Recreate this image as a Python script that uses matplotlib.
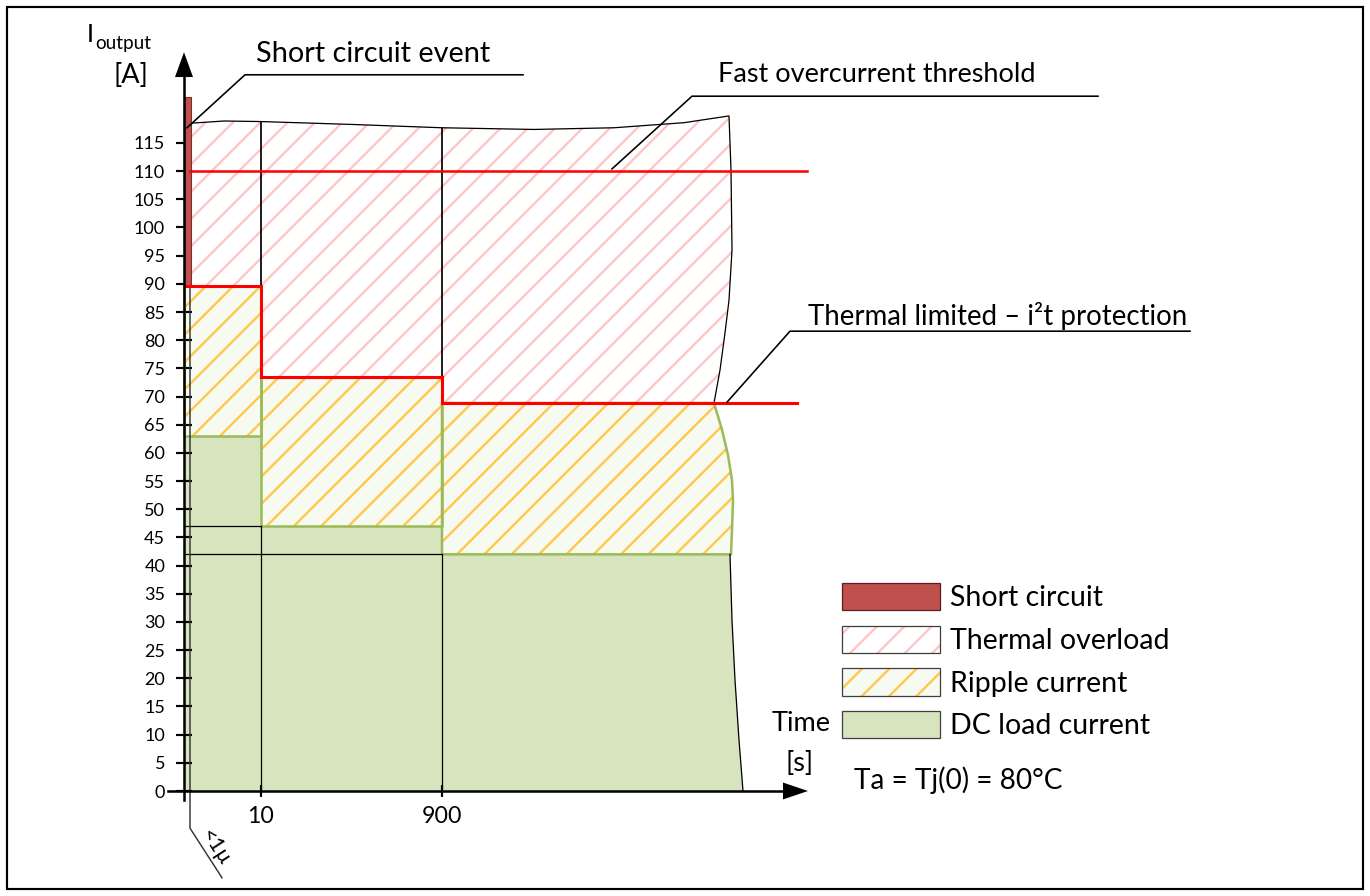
import matplotlib
matplotlib.use("Agg")
import matplotlib.pyplot as plt
from matplotlib.patches import Patch, Polygon, Rectangle
from matplotlib.legend_handler import HandlerTuple

# ---------------- data ----------------
time_labels = ['10', '900']            # tick labels on the time axis
col_edges = [0, 77, 258]               # schematic positions of column starts (short-circuit, 10 s, 900 s)
y_ticks = list(range(0, 120, 5))       # current ticks [A]
dc_levels = [63, 47, 42]               # DC load current per column [A]
i2t_limits = [89.6, 73.5, 68.85]       # thermal limited (i2t) levels per column [A]
fast_oc = 110                          # fast overcurrent threshold [A]
short_circuit = [89.6, 123.2]          # short circuit bar range [A]
# top boundary of thermal overload area
top_x = [6, 40, 77, 166, 258, 350, 430, 500, 545]
top_y = [118.5, 118.9, 118.8, 118.3, 117.7, 117.4, 117.7, 118.6, 119.8]
# right boundary (curved) of last column, per region (top -> bottom)
th_right_x = [545, 547, 548, 545, 541, 536, 530]
th_right_y = [119.8, 110.2, 96.0, 87.1, 81.3, 74.7, 68.85]
rp_right_x = [530, 538, 544, 548, 549, 548, 547]
rp_right_y = [68.85, 64.1, 59.6, 55.2, 51.6, 46.3, 42]
dc_right_x = [546, 548, 551, 555, 559]
dc_right_y = [42, 30.3, 19.7, 9.05, 0]
red_end = 613
fast_end = 623

# ---------------- figure ----------------
W, H, DPI = 1370, 896, 82
K = 130 / DPI           # sizes below are given for 130 dpi


def pt(v):
    return v * K


plt.rcParams['font.family'] = ['Lato', 'DejaVu Sans']
plt.rcParams['hatch.linewidth'] = pt(1.3)

PX = 5.635
fig = plt.figure(figsize=(W / DPI, H / DPI), dpi=DPI)
ax = fig.add_axes([0, 0, 1, 1])
ax.set_xlim(-184, W - 184)
ax.set_ylim(-105 / PX, (H - 105) / PX)
ax.patch.set_alpha(0)

C_DC = '#D7E4BD'
C_RP_FACE = '#F7FAF1'
C_RP_HATCH = '#FFC84A'
C_TH_HATCH = '#FFC4C4'
C_GREEN = '#9BBB59'
C_SC = '#C0504D'


def hatched(xs, ys, face, hcol, z=1):
    ax.add_patch(Polygon(list(zip(xs, ys)), closed=True, facecolor=face, edgecolor='none', lw=0, zorder=z))
    ax.add_patch(Polygon(list(zip(xs, ys)), closed=True, facecolor='none', edgecolor=hcol, lw=0,
                         hatch='/', zorder=z))


x_end_col = [col_edges[1], col_edges[2]]

# DC load current regions
for i in range(2):
    xs = [col_edges[i], col_edges[i], x_end_col[i], x_end_col[i]]
    ys = [0, dc_levels[i], dc_levels[i], 0]
    ax.add_patch(Polygon(list(zip(xs, ys)), closed=True, facecolor=C_DC, edgecolor='none', zorder=1))
xs = [col_edges[2], col_edges[2]] + dc_right_x
ys = [0, dc_levels[2]] + dc_right_y
ax.add_patch(Polygon(list(zip(xs, ys)), closed=True, facecolor=C_DC, edgecolor='none', zorder=1))

# Ripple regions
rp_polys = []
for i in range(2):
    xs = [col_edges[i], col_edges[i], x_end_col[i], x_end_col[i]]
    ys = [dc_levels[i], i2t_limits[i], i2t_limits[i], dc_levels[i]]
    rp_polys.append((xs, ys))
xs = [col_edges[2], col_edges[2]] + rp_right_x
ys = [dc_levels[2], i2t_limits[2]] + rp_right_y
rp_polys.append((xs, ys))
for xs, ys in rp_polys:
    hatched(xs, ys, C_RP_FACE, C_RP_HATCH)

# Thermal overload regions
th_polys = []
bounds = [(6, col_edges[1]), (col_edges[1], col_edges[2])]
for i, (a, b) in enumerate(bounds):
    tx = [x for x in top_x if a <= x <= b]
    ty = [top_y[top_x.index(x)] for x in tx]
    xs = [a] + tx + [b]
    ys = [i2t_limits[i]] + ty + [i2t_limits[i]]
    th_polys.append((xs, ys))
tx = [x for x in top_x if x >= col_edges[2]]
ty = [top_y[top_x.index(x)] for x in tx]
xs = [col_edges[2]] + tx + th_right_x[1:]
ys = [i2t_limits[2]] + ty + th_right_y[1:]
th_polys.append((xs, ys))
for xs, ys in th_polys:
    hatched(xs, ys, 'white', C_TH_HATCH)
    ax.add_patch(Polygon(list(zip(xs, ys)), closed=True, facecolor='none', edgecolor='black',
                         lw=pt(0.7), zorder=2))

# outlines of ripple (green)
for xs, ys in rp_polys:
    ax.add_patch(Polygon(list(zip(xs, ys)), closed=True, facecolor='none', edgecolor=C_GREEN,
                         lw=pt(1.4), zorder=2))

# thin black grid lines inside DC area
lk = dict(color='black', lw=pt(0.7), zorder=2)
ax.plot([0, col_edges[1]], [dc_levels[1]] * 2, **lk)
ax.plot([0, col_edges[2]], [dc_levels[2]] * 2, **lk)
ax.plot([col_edges[1]] * 2, [0, dc_levels[1]], **lk)
ax.plot([col_edges[2]] * 2, [0, dc_levels[2]], **lk)
ax.plot(dc_right_x, dc_right_y, **lk)

# <1u marker line
ax.plot([6, 6, 38], [top_y[0], -6.6, -15.4], color='#333333', lw=pt(0.8), zorder=3)
ax.text(12.5, -8.0, '<1µ', rotation=-57, rotation_mode='anchor', ha='left', va='bottom',
        fontsize=pt(12))

# short circuit bar
ax.add_patch(Rectangle((0, short_circuit[0]), 7, short_circuit[1] - short_circuit[0],
                       facecolor=C_SC, edgecolor='#7A2F2D', lw=pt(0.6), zorder=3))

# red lines
sx = [1, col_edges[1], col_edges[1], col_edges[2], col_edges[2], red_end]
sy = [i2t_limits[0], i2t_limits[0], i2t_limits[1], i2t_limits[1], i2t_limits[2], i2t_limits[2]]
ax.plot(sx, sy, color='#FF0000', lw=pt(1.7), zorder=4, solid_joinstyle='miter')
ax.plot([6, fast_end], [fast_oc, fast_oc], color='#FF0000', lw=pt(1.4), zorder=4)

# axes
for s in ['top', 'right']:
    ax.spines[s].set_visible(False)
ax.spines['left'].set_position(('data', 0))
ax.spines['bottom'].set_position(('data', 0))
ax.spines['left'].set_bounds(-1.6, 126.9)
ax.spines['bottom'].set_bounds(-16, 600)
for s in ['left', 'bottom']:
    ax.spines[s].set_linewidth(pt(1.4))
    ax.spines[s].set_zorder(5)
ax.fill([-9, 9, 0], [126.7, 126.7, 131.1], color='black', zorder=5, lw=0)
ax.fill([599, 599, 624], [-1.5, 1.5, 0], color='black', zorder=5, lw=0)

ax.set_yticks(y_ticks)
ax.set_yticklabels([str(v) for v in y_ticks])
ax.set_xticks(col_edges[1:])
ax.set_xticklabels(time_labels)
ax.tick_params(axis='y', direction='inout', length=pt(8.9), width=pt(1.2), labelsize=pt(10), pad=pt(6))
ax.tick_params(axis='x', direction='inout', length=pt(6.6), width=pt(1.2), labelsize=pt(12.8), pad=pt(5))

# axis labels
ax.text(-94, 134.2, 'I', fontsize=pt(14), ha='center', va='center')
ax.text(-89, 132.7, 'output', fontsize=pt(10.5), ha='left', va='center')
ax.text(-53, 126.9, '[A]', fontsize=pt(15), ha='center', va='center')
ax.text(617, 11.9, 'Time', fontsize=pt(15), ha='center', va='center')
ax.text(616, 4.8, '[s]', fontsize=pt(15), ha='center', va='center')

# annotations
al = dict(color='black', lw=pt(0.9), zorder=4)
ax.plot([3, 61, 339], [117.7, 127.1, 127.1], **al)
ax.text(72, 130.8, 'Short circuit event', fontsize=pt(16), ha='left', va='center')
ax.plot([428, 508, 914], [110.4, 123.3, 123.3], **al)
ax.text(534, 127.1, 'Fast overcurrent threshold', fontsize=pt(15), ha='left', va='center')
ax.plot([543, 606, 1006], [69.0, 81.6, 81.6], **al)
ax.text(624, 84.3, 'Thermal limited – i²t protection', fontsize=pt(15.3), ha='left', va='center')

ax.text(670, 1.95, 'Ta = Tj(0) = 80°C', fontsize=pt(15.5), ha='left', va='center')

# legend
h_sc = Patch(facecolor=C_SC, edgecolor='#5A2020', lw=pt(0.7))
h_th = (Patch(facecolor='white', edgecolor=C_TH_HATCH, hatch='/', lw=0),
        Patch(facecolor='none', edgecolor='#404040', lw=pt(0.7)))
h_rp = (Patch(facecolor=C_RP_FACE, edgecolor=C_RP_HATCH, hatch='/', lw=0),
        Patch(facecolor='none', edgecolor='#404040', lw=pt(0.7)))
h_dc = Patch(facecolor=C_DC, edgecolor='#404040', lw=pt(0.7))
leg = ax.legend([h_sc, h_th, h_rp, h_dc],
                ['Short circuit', 'Thermal overload', 'Ripple current', 'DC load current'],
                handler_map={tuple: HandlerTuple(ndivide=1)},
                loc='upper left', bbox_to_anchor=(842 / W, 1 - 583 / H), bbox_transform=fig.transFigure,
                frameon=False, fontsize=pt(15.8), handlelength=3.45, handleheight=1.1,
                labelspacing=0.5, handletextpad=0.33, borderpad=0, borderaxespad=0)

# outer frame
fig.patches.append(Rectangle((7 / W, 7 / H), (W - 14) / W, (H - 14) / H, transform=fig.transFigure,
                             fill=False, lw=pt(1.2), edgecolor='black'))

fig.savefig('out.png', dpi=DPI)
